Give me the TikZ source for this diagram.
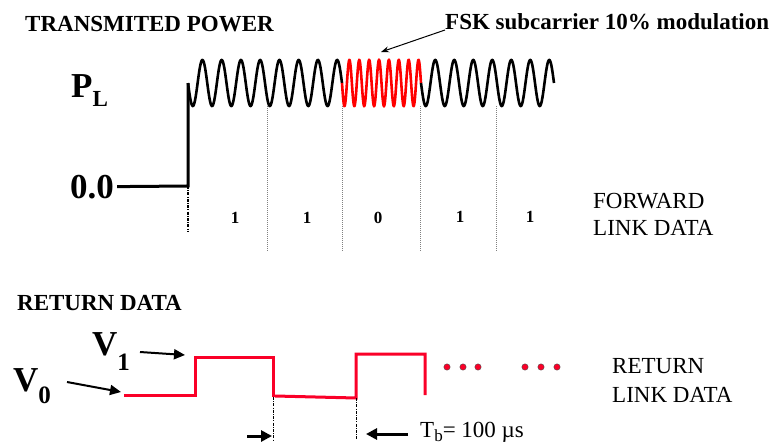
\documentclass[tikz,border=0pt]{standalone}
\usepackage{fontspec}
\setmainfont{Liberation Serif}
\usetikzlibrary{arrows.meta}
\definecolor{carrier}{RGB}{255,0,0}
\definecolor{retred}{RGB}{250,0,40}

\begin{document}
\begin{tikzpicture}[x=1pt, y=-1pt,
        title/.style={font=\fontsize{23}{28}\selectfont\bfseries, inner sep=0pt, anchor=base west},
        big/.style={font=\fontsize{35}{40}\selectfont\bfseries, inner sep=0pt, anchor=base west},
        plain/.style={font=\fontsize{23}{28}\selectfont, inner sep=0pt, anchor=base west},
        bit/.style={font=\fontsize{17}{20}\selectfont\bfseries, inner sep=0pt},
        pwr/.style={line width=3pt},
        wave/.style={line width=2.6pt, samples=400, smooth},
        tick/.style={gray, line width=0.6pt, dash pattern=on 1pt off 1pt},
        cutline/.style={line width=1.3pt, dash pattern=on 3pt off 1.2pt on 1pt off 1.2pt},
        ret/.style={retred, line width=3pt},
        varrow/.style={line width=2pt, -{Triangle[length=11pt,width=10pt]}},
        tarrow/.style={line width=3pt, -{Triangle[length=11pt,width=11pt]}}]
    \useasboundingbox (0,0) rectangle (772,447);

    \node[title] (txpow) at (25,31) {TRANSMITED POWER};
    \node[title] (fsk) at (445,30) {FSK subcarrier 10\% modulation};
    \node[big] (pl) at (71,97) {P\raisebox{-9pt}{\fontsize{23}{23}\selectfont L}};
    \node[big] (zero) at (70,198) {0.0};

    \coordinate (rise) at (188,186);
    \coordinate (risetop) at (188,83);
    \coordinate (fsktip) at (381,52);
    \draw[pwr] ([xshift=3pt]zero.east) -- (rise) -- (risetop);
    \draw[cutline] (rise) -- (188,232);
    \draw[wave, domain=188:342] plot (\x, {83+23*sin(360/19.25*(\x-188))});
    \draw[wave, carrier, domain=342:421] plot (\x, {83+23*sin(360/9.875*(\x-342))});
    \draw[wave, domain=421:554] plot (\x, {83+23*sin(360/19*(\x-421))});
    \draw[line width=1pt, -{Stealth[length=8pt,width=6pt]}] (fsk.base west) -- (fsktip);
    \foreach \xx in {267,342,420,496}
        \draw[tick] (\xx,106) -- (\xx,252);

    \node[bit] (b1) at (235,218) {1};
    \node[bit] (b2) at (307,218) {1};
    \node[bit] (b3) at (378,218) {0};
    \node[bit] (b4) at (460,217) {1};
    \node[bit] (b5) at (530,217) {1};
    \node[plain] (fwd1) at (593,208) {FORWARD};
    \node[plain] (fwd2) at (593,235) {LINK DATA};

    \node[title] (retdata) at (17,310) {RETURN DATA};
    \node[big] (vone) at (92,355) {V\raisebox{-15pt}{\fontsize{25}{25}\selectfont 1}};
    \node[big] (vzero) at (13,391) {V\raisebox{-12pt}{\fontsize{25}{25}\selectfont 0}};
    \coordinate (vonetail) at (140,352);
    \coordinate (vonetip) at (185,355);
    \coordinate (vzerotail) at (67,382);
    \coordinate (vzerotip) at (121,392);
    \draw[varrow] (vonetail) -- (vonetip);
    \draw[varrow] (vzerotail) -- (vzerotip);

    \coordinate (fall) at (273,397);
    \coordinate (riseb) at (356,398);
    \draw[ret] (124,395) -- (195,395) -- (195,357) -- (273,357) -- (fall);
    \draw[ret] (275,396) -- (riseb) -- (356,354) -- (425,354) -- (425,395);
    \foreach \xx in {447,463,478,525,541,557}
        \filldraw[fill=retred, draw=black!70, line width=0.4pt] (\xx,367) circle (3.2);
    \node[plain] (ret1) at (612,373) {RETURN};
    \node[plain] (ret2) at (612,402) {LINK DATA};

    \draw[cutline, line width=1pt] (fall) -- (273,440);
    \draw[cutline, line width=1pt] (riseb) -- (356,440);
    \coordinate (tbltail) at (247,436);
    \coordinate (tbltip) at (272,436);
    \coordinate (tbrtail) at (408,434);
    \coordinate (tbrtip) at (366,434);
    \draw[tarrow] (tbltail) -- (tbltip);
    \draw[tarrow] (tbrtail) -- (tbrtip);
    \node[plain] (tb) at (420,437) {T\raisebox{-4pt}{\fontsize{17}{17}\selectfont b}= 100 µs};
\end{tikzpicture}
\end{document}
